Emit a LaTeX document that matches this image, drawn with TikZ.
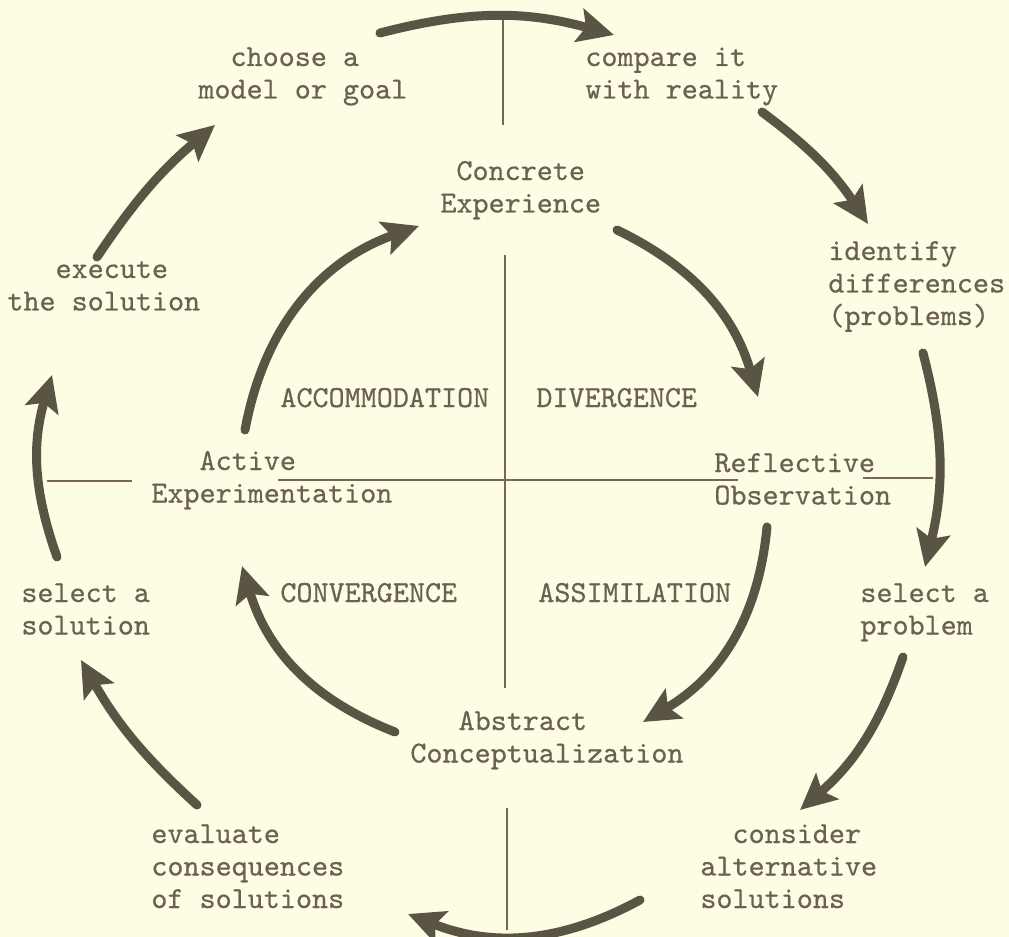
\documentclass[tikz,border=0pt]{standalone}
\usepackage{fontspec}
\setmonofont{lmmono10-regular.otf}[FakeBold=0.5]
\usetikzlibrary{arrows.meta}
\definecolor{bg}{HTML}{FDFDE4}
\definecolor{ink}{HTML}{6C6052}
\definecolor{arr}{HTML}{5A5445}
\definecolor{rule}{HTML}{7A6656}
\newcommand{\lbl}[1]{\begin{tabular}[t]{@{}l@{}}#1\end{tabular}}
\tikzset{
  lab/.style={anchor=base west, inner sep=0pt, text=ink,
    font=\fontsize{15.3pt}{16.25pt}\selectfont\ttfamily},
  axis/.style={draw=rule, line width=1.1pt},
  flow/.style={draw=arr, line width=4.5pt, line cap=round,
    -{Stealth[length=18pt,width=17pt,inset=3.5pt]}},
}
\begin{document}
\begin{tikzpicture}[x=0.5pt,y=-0.5pt]
\fill[bg] (0,0) rectangle (1009,937);
\useasboundingbox (0,0) rectangle (1009,937);

% text nodes
\node[lab] (choose)   at (198,66)  {\lbl{\phantom{xx}choose a\\model or goal}};
\node[lab] (compare)  at (585,66)  {\lbl{compare it\\with reality}};
\node[lab] (concrete) at (440,180) {\lbl{\phantom{x}Concrete\\Experience}};
\node[lab] (identify) at (828,260) {\lbl{identify\\differences\\(problems)}};
\node[lab] (execute)  at (7,278)   {\lbl{\phantom{xxx}execute\\the solution}};
\node[lab] (accom)    at (280,407) {ACCOMMODATION};
\node[lab] (diverg)   at (536,407) {DIVERGENCE};
\node[lab] (active)   at (151,470) {\lbl{\phantom{xxx}Active\\Experimentation}};
\node[lab] (reflect)  at (714,472) {\lbl{Reflective\\Observation}};
\node[lab] (selsol)   at (21,602)  {\lbl{select a\\solution}};
\node[lab] (conv)     at (280,602) {CONVERGENCE};
\node[lab] (assim)    at (538,602) {ASSIMILATION};
\node[lab] (selprob)  at (860,602) {\lbl{select a\\problem}};
\node[lab] (abstract) at (410,730) {\lbl{\phantom{xxx}Abstract\\Conceptualization}};
\node[lab] (evaluate) at (151,843) {\lbl{evaluate\\consequences\\of solutions}};
\node[lab] (consider) at (700,843) {\lbl{\phantom{xx}consider\\alternative\\solutions}};

% axes
\draw[axis] (503,18) -- (503,125);
\draw[axis] (505,255) -- (505,688);
\draw[axis] (507,808) -- (507,930);
\draw[axis] (47,481) -- (132,481);
\draw[axis] (278,480) -- (738,480);
\draw[axis] (863,478) -- (933,478);

% arrow end points
\coordinate (o1s) at (380,33);  \coordinate (o1e) at (614,35);
\coordinate (o2s) at (762,112); \coordinate (o2e) at (868,224);
\coordinate (o3s) at (923,353); \coordinate (o3e) at (925,567);
\coordinate (o4s) at (903,657); \coordinate (o4e) at (800,810);
\coordinate (o5s) at (640,900); \coordinate (o5e) at (408,914);
\coordinate (o6s) at (197,805); \coordinate (o6e) at (81,660);
\coordinate (o7s) at (57,557);  \coordinate (o7e) at (52,375);
\coordinate (o8s) at (97,257);  \coordinate (o8e) at (215,125);
\coordinate (i1s) at (245,430); \coordinate (i1e) at (419,226);
\coordinate (i2s) at (617,230); \coordinate (i2e) at (758,397);
\coordinate (i3s) at (767,527); \coordinate (i3e) at (643,722);
\coordinate (i4s) at (395,732); \coordinate (i4e) at (242,566);

% outer cycle
\draw[flow] (o1s) to[bend left=15] (o1e);
\draw[flow] (o2s) to[bend left=10] (o2e);
\draw[flow] (o3s) to[bend left=14] (o3e);
\draw[flow] (o4s) to[bend left=15] (o4e);
\draw[flow] (o5s) to[bend left=25] (o5e);
\draw[flow] (o6s) to[bend left=9]  (o6e);
\draw[flow] (o7s) to[bend left=18] (o7e);
\draw[flow] (o8s) to[bend left=8]  (o8e);
% inner cycle
\draw[flow] (i1s) to[bend left=30] (i1e);
\draw[flow] (i2s) to[bend left=24] (i2e);
\draw[flow] (i3s) to[bend left=27] (i3e);
\draw[flow] (i4s) to[bend left=26] (i4e);
\end{tikzpicture}
\end{document}
